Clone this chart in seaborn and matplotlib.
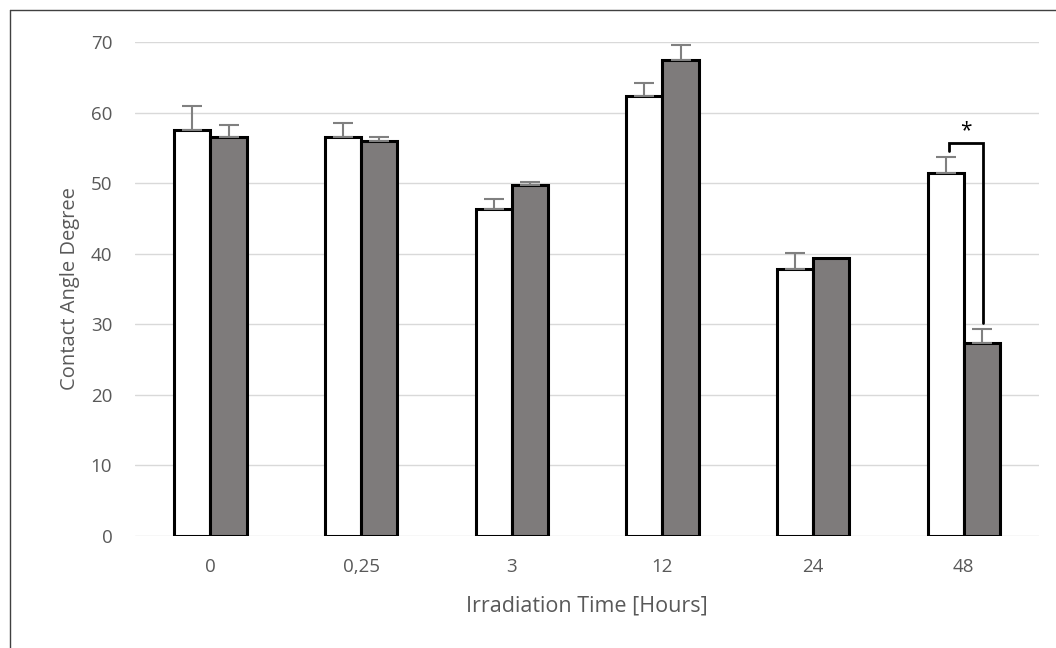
import numpy as np
import pandas as pd
import seaborn as sns
from matplotlib import pyplot as plt
from matplotlib.lines import Line2D

# values
times = ["0", "0,25", "3", "12", "24", "48"]
control = [57.6, 56.5, 46.3, 62.4, 37.8, 51.5]
control_err = [3.3, 2.1, 1.4, 1.8, 2.3, 2.2]
treated = [56.5, 56.0, 49.7, 67.4, 39.4, 27.3]
treated_err = [1.7, 0.5, 0.5, 2.2, 0.0, 2.1]

GREY_TXT = "#595959"

df = pd.DataFrame({
    "time": times * 2,
    "angle": control + treated,
    "group": ["control"] * len(times) + ["treated"] * len(times),
})

sns.set_style("white")
plt.rcParams["font.family"] = ["Open Sans", "DejaVu Sans"]

fig = plt.figure(figsize=(10.56, 6.48), dpi=100)
ax = fig.add_axes([0.128, 0.173, 0.856, 0.762])

sns.barplot(data=df, x="time", y="angle", hue="group", order=times,
            palette={"control": "white", "treated": "#7f7b7a"},
            edgecolor="black", linewidth=2.2, width=0.48, errorbar=None,
            legend=False, ax=ax)

# upper-only error bars
for cont, err in zip(ax.containers, [control_err, treated_err]):
    for bar, e in zip(cont, err):
        if e <= 0:
            continue
        xc = bar.get_x() + bar.get_width() / 2
        top = bar.get_height()
        ax.errorbar(xc, top, yerr=[[0], [e]], fmt="none", ecolor="#808080",
                    elinewidth=1.5, capsize=7, capthick=1.5, zorder=3)

# significance bracket on the last group
b1 = ax.containers[0][5]
b2 = ax.containers[1][5]
x1 = b1.get_x() + b1.get_width() / 2 + 0.02
x2 = b2.get_x() + b2.get_width() / 2 + 0.01
ax.plot([x1, x1, x2, x2], [54.6, 55.7, 55.7, 30.2], color="black", lw=2,
        solid_joinstyle="miter", zorder=4)
ax.text((x1 + x2) / 2, 56.0, "*", ha="center", va="bottom", fontsize=15,
        color="black")

ax.set_ylim(0, 70)
ax.set_yticks(range(0, 71, 10))
ax.set_xlim(-0.5, len(times) - 0.5)
ax.yaxis.grid(True, color="#d9d9d9", linewidth=1)
ax.set_axisbelow(True)
for s in ax.spines.values():
    s.set_visible(False)
ax.tick_params(axis="both", length=0, labelsize=13.5, colors=GREY_TXT)
ax.tick_params(axis="x", pad=16)
ax.tick_params(axis="y", pad=16.5)
ax.set_xlabel("Irradiation Time [Hours]", fontsize=15.5, color=GREY_TXT,
              labelpad=14)
ax.set_ylabel("Contact Angle Degree", fontsize=14.5, color=GREY_TXT,
              labelpad=8)

# chart frame (left and top edges visible in the reference)
fig.add_artist(Line2D([0.0095, 0.0095], [0.0, 0.985], color="#404040",
                      lw=1, transform=fig.transFigure))
fig.add_artist(Line2D([0.0095, 1.0], [0.985, 0.985], color="#404040",
                      lw=1, transform=fig.transFigure))

fig.savefig("out.png", dpi=100)
